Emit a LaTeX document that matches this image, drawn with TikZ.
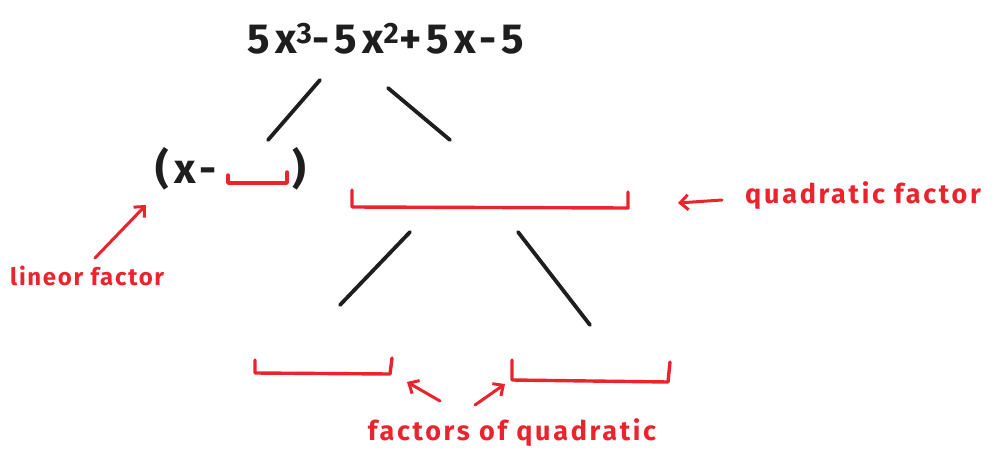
\documentclass[tikz,border=0pt]{standalone}
\usepackage{fontspec}
\usetikzlibrary{arrows.meta}
\setmainfont{Fira Sans}
\definecolor{pen}{RGB}{235,35,45}
\definecolor{ink}{RGB}{30,30,30}
\begin{document}
\begin{tikzpicture}[x=1pt,y=-1pt,
  blk/.style={draw=ink,line width=3.8pt,line cap=round},
  rbr/.style={draw=pen,line width=3.4pt,line cap=round,line join=round},
  rarr/.style={draw=pen,line width=3pt,line cap=round,-{Straight Barb[length=8pt,width=15pt,line width=3pt]}},
  lbl/.style={text=pen,inner sep=0pt,font=\fontsize{27}{30}\selectfont\bfseries\addfontfeatures{LetterSpace=10}},
  mth/.style={text=ink,inner sep=0pt,font=\fontsize{42}{44}\selectfont\bfseries\addfontfeatures{LetterSpace=13}}]
\useasboundingbox (0,0) rectangle (1003,450);
\fill[white] (0,0) rectangle (1003,450);
% top polynomial
\node[mth,anchor=base] (poly) at (386,53) {5x\textsuperscript{3}-5x\textsuperscript{2}+5x-5};
% branches
\coordinate (l1a) at (320,80); \coordinate (l1b) at (268,140);
\coordinate (r1a) at (388,88); \coordinate (r1b) at (450,140);
\draw[blk] (l1a) -- (l1b);
\draw[blk] (r1a) -- (r1b);
% linear factor
\node[mth,anchor=base] (xm) at (186,183) {(x-};
\coordinate (lb1) at (228,175); \coordinate (lb2) at (287,172);
\draw[rbr] (lb1) -- (228,183) -- (287,183) -- (lb2);
\node[mth,anchor=base] (rp) at (299,183) {)};
% quadratic bracket
\coordinate (qb1) at (352,190); \coordinate (qb2) at (628,192);
\draw[rbr] (qb1) -- (352,207) -- (628,208) -- (qb2);
% quadratic label
\node[lbl,anchor=base west] (ql) at (745,203) {quadratic factor};
\coordinate (qa1) at (722,200); \coordinate (qa2) at (678,203);
\draw[rarr] (qa1) -- (qa2);
% linear label
\node[lbl,anchor=base west,font=\fontsize{24}{28}\selectfont\bfseries\addfontfeatures{LetterSpace=7}] (ll) at (10,285) {lineor factor};
\coordinate (la1) at (95,258); \coordinate (la2) at (146,205);
\draw[rarr] (la1) -- (la2);
% lower branches
\coordinate (l2a) at (410,232); \coordinate (l2b) at (340,305);
\coordinate (r2a) at (518,232); \coordinate (r2b) at (590,325);
\draw[blk] (l2a) -- (l2b);
\draw[blk] (r2a) -- (r2b);
% bottom brackets
\coordinate (b1a) at (255,360); \coordinate (b1b) at (392,358);
\draw[rbr] (b1a) -- (255,373) -- (390,374) -- (b1b);
\coordinate (b2a) at (512,360); \coordinate (b2b) at (670,362);
\draw[rbr] (b2a) -- (512,380) -- (668,382) -- (b2b);
% factors label
\node[lbl,anchor=base] (fl) at (512,440) {factors of quadratic};
\coordinate (fa1) at (440,401); \coordinate (fa2) at (407,382);
\coordinate (fb1) at (475,405); \coordinate (fb2) at (505,384);
\draw[rarr] (fa1) -- (fa2);
\draw[rarr] (fb1) -- (fb2);
\end{tikzpicture}
\end{document}
